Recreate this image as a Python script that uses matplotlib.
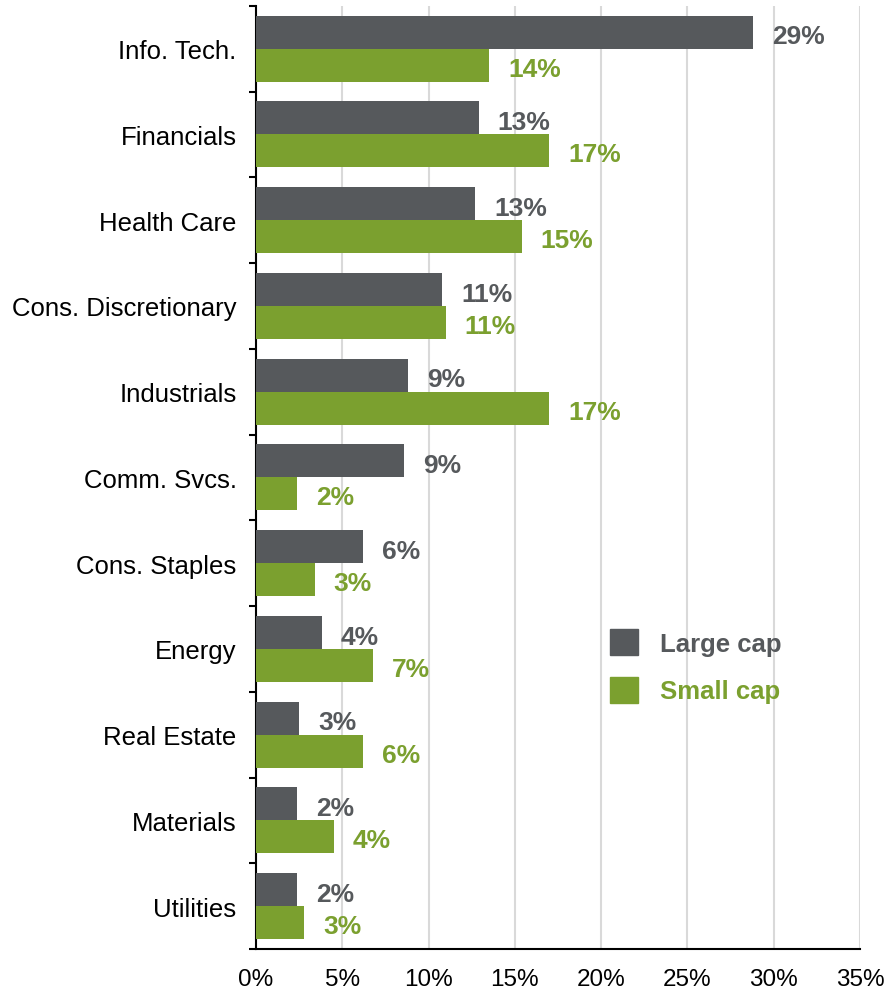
import numpy as np
from matplotlib import pyplot as plt
from matplotlib.patches import Patch

sectors = ['Info. Tech.', 'Financials', 'Health Care', 'Cons. Discretionary', 'Industrials',
           'Comm. Svcs.', 'Cons. Staples', 'Energy', 'Real Estate', 'Materials', 'Utilities']
large_cap = [28.8, 12.9, 12.7, 10.8, 8.8, 8.6, 6.2, 3.8, 2.5, 2.4, 2.4]
small_cap = [13.5, 17.0, 15.4, 11.0, 17.0, 2.4, 3.4, 6.8, 6.2, 4.5, 2.8]
large_labels = ['29%', '13%', '13%', '11%', '9%', '9%', '6%', '4%', '3%', '2%', '2%']
small_labels = ['14%', '17%', '15%', '11%', '17%', '2%', '3%', '7%', '6%', '4%', '3%']
x_ticks = [0, 5, 10, 15, 20, 25, 30, 35]

dark = '#56595C'
green = '#7BA02F'

plt.rcParams['font.family'] = ['Liberation Sans', 'DejaVu Sans']

fig = plt.figure(figsize=(8.9, 9.95), dpi=100)
ax = fig.add_axes([0.2876, 0.0452, 0.6787, 0.948])

y = np.arange(len(sectors))
h = 0.385
ax.barh(y - h / 2, large_cap, height=h, color=dark, zorder=3)
ax.barh(y + h / 2, small_cap, height=h, color=green, zorder=3)

# value labels next to each bar
for i in range(len(sectors)):
    ax.text(large_cap[i] + 1.1, y[i] - h / 2 + 0.05, large_labels[i], color=dark, fontsize=19,
            fontweight='bold', va='center', ha='left')
    ax.text(small_cap[i] + 1.1, y[i] + h / 2 + 0.04, small_labels[i], color=green, fontsize=19,
            fontweight='bold', va='center', ha='left')

ax.set_ylim(len(sectors) - 0.5, -0.5)
ax.set_xlim(0, 35)
ax.set_yticks(y)
ax.set_yticklabels(sectors, fontsize=18.5)
ax.set_yticks(np.arange(-0.5, len(sectors), 1), minor=True)
ax.tick_params(axis='y', which='major', length=0, pad=14)
ax.tick_params(axis='y', which='minor', length=5, width=1.5, direction='out')

ax.set_xticks(x_ticks)
ax.set_xticklabels([f'{t}%' for t in x_ticks], fontsize=17.5)
ax.tick_params(axis='x', length=0, pad=14)
ax.xaxis.grid(True, color='#D9D9D9', linewidth=1.5, zorder=0)
ax.set_axisbelow(True)

for s in ['top', 'right']:
    ax.spines[s].set_visible(False)
ax.spines['left'].set_linewidth(1.5)
ax.spines['bottom'].set_linewidth(1.5)

handles = [Patch(color=dark, label='Large cap'), Patch(color=green, label='Small cap')]
ax.legend(handles=handles, loc='center left', bbox_to_anchor=(0.548, 0.300), frameon=False,
          prop={'weight': 'bold', 'size': 18.5}, handlelength=1.1, handleheight=1.2,
          handletextpad=0.85, labelspacing=0.82, labelcolor=[dark, green])

plt.savefig('out.png', dpi=100)
